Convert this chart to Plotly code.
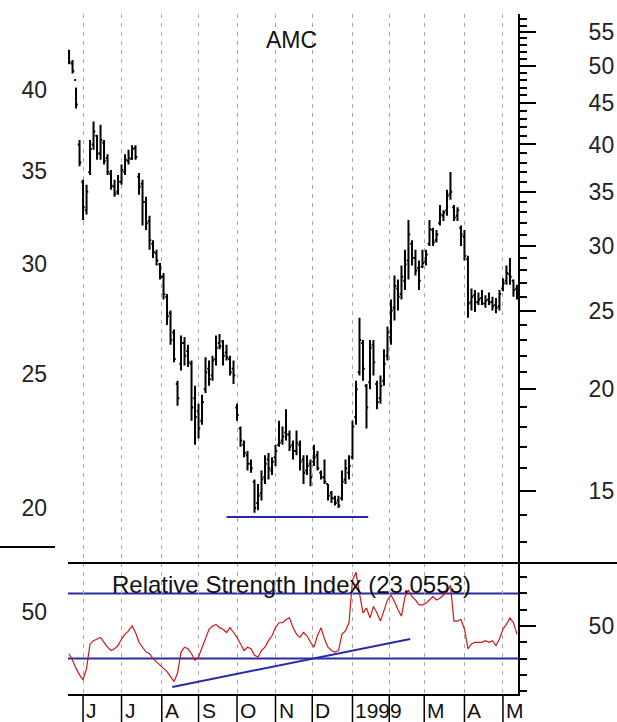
import numpy as np
import pandas as pd
import plotly.graph_objects as go

# ---------------- data ----------------
ticker = "AMC"
rsi_title = "Relative Strength Index (23.0553)"
start_date = "1998-05-20"
n_days = 257

highs = [52.3, 50.8, 47.0, 40.5, 36.2, 35.7, 40.5, 42.7, 41.1, 42.3,
         40.5, 38.9, 37.2, 36.2, 36.7, 37.8, 38.9, 39.4, 39.9, 39.9,
         36.9, 36.2, 34.5, 32.7, 30.5, 29.7, 28.6, 27.8, 26.2, 25.0,
         23.7, 20.5, 23.3, 23.2, 22.7, 21.7, 20.2, 19.2, 19.7, 21.9,
         21.7, 22.0, 23.3, 23.4, 23.0, 22.7, 22.0, 21.7, 19.2, 18.0,
         17.3, 16.8, 16.4, 15.5, 15.3, 15.9, 16.6, 16.7, 16.5, 17.1,
         18.3, 18.0, 18.9, 17.8, 17.3, 17.8, 17.3, 16.6, 16.6, 16.4,
         17.1, 16.8, 15.9, 16.4, 15.3, 15.0, 14.8, 14.8, 15.9, 16.4,
         16.6, 18.3, 20.5, 24.5, 23.0, 20.3, 23.0, 23.0, 20.5, 20.8,
         22.4, 23.9, 25.8, 27.6, 27.3, 28.4, 29.7, 32.3, 30.5, 29.7,
         28.8, 29.7, 29.7, 32.3, 31.6, 31.4, 33.7, 33.2, 35.2, 37.0,
         33.7, 33.5, 31.8, 31.4, 29.2, 26.6, 26.5, 26.3, 26.5, 26.1,
         26.3, 26.0, 25.9, 26.5, 27.4, 28.4, 29.0, 27.3, 26.9]
lows = [50.2, 48.9, 44.3, 37.6, 32.3, 32.8, 36.7, 39.4, 38.3, 38.3,
        37.8, 36.7, 35.2, 34.5, 34.7, 35.7, 36.7, 37.8, 38.3, 38.3,
        34.7, 31.8, 31.4, 29.7, 29.0, 28.4, 27.3, 25.8, 24.0, 22.7,
        21.6, 19.1, 21.1, 21.4, 21.3, 18.3, 17.1, 17.4, 18.1, 19.8,
        20.2, 20.5, 21.4, 22.4, 21.4, 21.7, 20.8, 20.3, 18.3, 17.0,
        16.5, 15.9, 15.8, 14.1, 14.2, 14.6, 15.3, 15.5, 15.7, 16.1,
        17.0, 17.1, 17.3, 16.8, 16.4, 16.6, 15.9, 15.3, 15.7, 15.2,
        16.1, 15.9, 15.5, 15.3, 14.6, 14.5, 14.4, 14.3, 14.6, 15.3,
        15.5, 16.4, 18.1, 20.8, 20.5, 17.9, 20.0, 20.8, 18.9, 19.2,
        20.2, 21.7, 22.7, 24.3, 25.0, 25.8, 26.5, 27.3, 28.4, 27.6,
        26.5, 28.2, 28.4, 30.0, 30.0, 30.3, 31.8, 32.2, 32.7, 34.2,
        32.2, 32.2, 30.0, 28.8, 24.5, 25.0, 24.9, 25.4, 25.4, 25.2,
        25.4, 25.0, 24.8, 25.0, 26.4, 26.9, 26.9, 26.0, 25.8]
closes = [50.5, 49.2, 44.8, 38.0, 33.5, 35.0, 39.5, 41.5, 39.0, 40.5,
          38.2, 37.0, 35.6, 34.8, 36.0, 37.2, 38.3, 38.5, 39.5, 38.6,
          35.5, 34.0, 32.0, 30.5, 29.5, 28.8, 27.5, 26.2, 24.6, 23.0,
          21.8, 19.5, 22.8, 22.0, 21.6, 19.0, 18.5, 17.9, 19.3, 21.0,
          20.6, 21.7, 22.5, 22.6, 22.0, 21.9, 21.0, 20.8, 18.6, 17.3,
          16.7, 16.2, 16.0, 14.3, 14.8, 15.5, 16.2, 16.0, 16.3, 16.8,
          17.2, 17.5, 17.6, 17.0, 16.8, 17.2, 16.3, 15.8, 16.1, 15.6,
          16.5, 16.0, 15.6, 15.4, 14.8, 14.7, 14.5, 14.4, 15.4, 16.0,
          16.1, 18.0, 20.0, 23.0, 21.2, 19.0, 22.5, 21.6, 19.3, 20.2,
          21.5, 23.5, 25.0, 26.8, 26.0, 27.5, 28.5, 31.0, 29.0, 28.0,
          27.2, 28.6, 29.3, 31.5, 30.3, 31.0, 32.8, 33.0, 34.6, 35.0,
          32.5, 33.2, 31.0, 29.2, 25.5, 26.0, 25.6, 25.8, 25.5, 25.7,
          25.6, 25.3, 25.2, 26.2, 27.0, 27.8, 27.5, 26.5, 26.2]
opens = [52.0, 50.3, 48.0, 40.0, 36.0, 33.2, 37.0, 40.0, 41.0, 39.0,
         40.2, 38.5, 36.8, 35.5, 35.0, 36.0, 37.0, 38.2, 38.4, 39.6,
         36.5, 35.8, 34.0, 32.2, 30.2, 29.4, 28.5, 27.5, 26.0, 24.8,
         23.5, 20.3, 21.5, 22.8, 22.3, 21.5, 19.5, 18.8, 18.3, 20.0,
         21.2, 20.8, 21.8, 22.8, 22.9, 22.2, 21.8, 21.2, 19.0, 17.9,
         17.1, 16.6, 16.2, 15.4, 14.5, 14.9, 15.6, 16.4, 15.9, 16.5,
         17.1, 17.3, 17.7, 17.6, 17.1, 16.8, 17.1, 16.4, 15.9, 16.2,
         16.3, 16.6, 15.8, 15.6, 15.3, 14.9, 14.7, 14.6, 14.7, 15.5,
         15.8, 16.5, 18.5, 21.0, 22.8, 20.2, 20.4, 22.7, 20.3, 19.5,
         20.5, 22.0, 23.2, 25.2, 26.6, 26.2, 27.2, 28.8, 30.2, 29.0,
         28.2, 28.3, 28.7, 30.2, 31.4, 30.5, 32.0, 32.7, 33.2, 34.8,
         33.5, 32.7, 31.6, 30.8, 28.9, 25.6, 26.1, 25.6, 25.9, 25.5,
         25.8, 25.6, 25.4, 25.3, 26.6, 27.2, 27.7, 27.2, 26.6]
rsi = [33, 29, 24, 20, 17, 24, 39, 41, 42, 43,
       40, 37, 35, 36, 38, 42, 45, 47, 50, 46,
       40, 37, 34, 33, 30, 28, 26, 24, 22, 19,
       16, 21, 34, 37, 36, 33, 29, 31, 37, 43,
       48, 50, 51, 49, 48, 46, 49, 46, 43, 39,
       35, 37, 36, 32, 31, 35, 37, 41, 44, 49,
       52, 52, 54, 55, 49, 45, 43, 46, 44, 40,
       37, 44, 49, 42, 37, 35, 34, 35, 45, 47,
       52, 78, 83, 70, 58, 61, 55, 62, 58, 53,
       60, 66, 69, 65, 60, 56, 68, 72, 68, 66,
       63, 63, 64, 66, 68, 66, 67, 69, 71, 75,
       53, 53, 54, 48, 36, 39, 40, 40, 40, 41,
       40, 41, 38, 42, 48, 51, 55, 52, 45]

month_labels = ["J", "J", "A", "S", "O", "N", "D", "1999", "", "M", "A", "M"]
price_ticks_right = [15, 20, 25, 30, 35, 40, 45, 50, 55]
price_ticks_left = [20, 25, 30, 35, 40]
rsi_levels = [30, 70]
support_idx = [90, 171]
support_val = [13.94, 13.94]
rsi_trend_idx = [59, 195]
rsi_trend_val = [12.6, 42.0]

# ---------------- derived index ----------------
bdays = pd.bdate_range(start_date, periods=n_days)
day_idx = np.arange(n_days)
bar_x = day_idx[::2]
month_idx = [int(i) for i in day_idx[1:] if bdays[i].month != bdays[i - 1].month]

FONT = "Liberation Sans, Arial, sans-serif"
d_split = (694 - 563) / 680.0
PW = 450.0  # plot width in px

fig = go.Figure()
fig.add_trace(go.Ohlc(
    x=bar_x, open=opens, high=highs, low=lows, close=closes,
    increasing=dict(line=dict(color="black", width=2)),
    decreasing=dict(line=dict(color="black", width=2)),
    tickwidth=0.5, xaxis="x", yaxis="y", showlegend=False, hoverinfo="skip"))
fig.add_trace(go.Scatter(
    x=support_idx, y=support_val, mode="lines",
    line=dict(color="#2a2aa8", width=2), xaxis="x", yaxis="y",
    showlegend=False, hoverinfo="skip"))
fig.add_trace(go.Scatter(
    x=bar_x, y=rsi, mode="lines", line=dict(color="#d01818", width=1.2),
    xaxis="x2", yaxis="y2", showlegend=False, hoverinfo="skip"))
fig.add_trace(go.Scatter(
    x=rsi_trend_idx, y=rsi_trend_val, mode="lines",
    line=dict(color="#2a2aa8", width=2), xaxis="x2", yaxis="y2",
    showlegend=False, hoverinfo="skip"))

grid = dict(showgrid=True, gridcolor="#a8a8a8", griddash="4px,5px", gridwidth=1)
xcommon = dict(domain=[0, 1], range=[-0.6, n_days - 0.4], tickmode="array",
               tickvals=month_idx, showticklabels=False, ticks="", automargin=False,
               zeroline=False, rangeslider=dict(visible=False), **grid)

shapes = []
for lv in rsi_levels:
    shapes.append(dict(type="line", xref="paper", x0=0, x1=1, yref="y2", y0=lv, y1=lv,
                       line=dict(color="#2a2aa8", width=2), layer="below"))
# panel separators
shapes.append(dict(type="line", xref="paper", x0=0, x1=(617 - 68) / PW, yref="paper",
                   y0=d_split, y1=d_split, line=dict(color="black", width=2)))
shapes.append(dict(type="line", xref="paper", x0=-68 / PW, x1=-13 / PW, yref="paper",
                   y0=(694 - 547) / 680.0, y1=(694 - 547) / 680.0, line=dict(color="black", width=2)))
for mi in month_idx:
    shapes.append(dict(type="line", xref="x", x0=mi, x1=mi, yref="paper", y0=0, y1=-0.045,
                       line=dict(color="black", width=1.5)))

annotations = [
    dict(text=ticker, xref="paper", yref="paper", x=(291 - 68) / PW, y=(694 - 40) / 680.0,
         yanchor="middle", showarrow=False, font=dict(family=FONT, size=23, color="#111")),
    dict(text=rsi_title, xref="paper", yref="paper", x=(291 - 68) / PW, y=(694 - 584) / 680.0,
         yanchor="middle", showarrow=False, font=dict(family=FONT, size=24, color="#111")),
]
for mi, lab in zip(month_idx, month_labels):
    if lab:
        annotations.append(dict(text=lab, xref="x", x=mi, xanchor="left", xshift=1,
                                yref="paper", y=0, yanchor="top", yshift=-3,
                                showarrow=False, font=dict(family=FONT, size=21, color="#111")))

tickfont = dict(family=FONT, size=23, color="#222")
fig.update_layout(
    width=617, height=722, margin=dict(l=68, r=99, t=14, b=28, autoexpand=False),
    paper_bgcolor="white", plot_bgcolor="white", showlegend=False,
    xaxis=dict(anchor="y", **xcommon),
    xaxis2=dict(anchor="y2", matches="x", showline=True, linecolor="black", linewidth=2, **xcommon),
    yaxis=dict(domain=[d_split, 1], anchor="x", side="right", type="log", automargin=False,
               range=[1.08759, 1.76245], tickmode="array", tickvals=price_ticks_right,
               ticks="outside", ticklen=16, tickwidth=2, tickcolor="black",
               showline=True, linecolor="black", linewidth=2, showgrid=False, zeroline=False,
               minor=dict(tickmode="array", tickvals=[v for v in range(13, 58) if v % 5],
                          ticks="outside", ticklen=7, tickwidth=2, tickcolor="black", showgrid=False),
               tickfont=tickfont, ticklabelstandoff=48),
    yaxis3=dict(overlaying="y", anchor="x", side="left", type="log", automargin=False,
                range=[1.2615, 1.6568], tickmode="array", tickvals=price_ticks_left,
                ticks="", showline=False, showgrid=False, zeroline=False,
                tickfont=tickfont, ticklabelstandoff=20),
    yaxis2=dict(domain=[0, d_split], anchor="x2", side="right", range=[8.28, 88.65],
                automargin=False,
                tickmode="array", tickvals=[50], ticks="outside", ticklen=16, tickwidth=2,
                tickcolor="black", showline=True, linecolor="black", linewidth=2,
                showgrid=False, zeroline=False,
                minor=dict(tickmode="array", tickvals=[10, 20, 30, 40, 60, 70, 80],
                           ticks="outside", ticklen=7, tickwidth=2, tickcolor="black", showgrid=False),
                tickfont=tickfont, ticklabelstandoff=48),
    yaxis4=dict(overlaying="y2", anchor="x2", side="left", range=[-0.31, 80.06],
                automargin=False,
                tickmode="array", tickvals=[50], ticks="", showline=False, showgrid=False,
                zeroline=False, tickfont=tickfont, ticklabelstandoff=20),
    shapes=shapes, annotations=annotations,
)
# dummy traces so overlay axes render
fig.add_trace(go.Scatter(x=[None], y=[None], xaxis="x", yaxis="y3", showlegend=False, hoverinfo="skip"))
fig.add_trace(go.Scatter(x=[None], y=[None], xaxis="x2", yaxis="y4", showlegend=False, hoverinfo="skip"))

fig.write_html("out.html", config={"displayModeBar": False, "staticPlot": True},
               post_script="document.body.style.margin='0px';document.body.style.overflow='hidden';")
